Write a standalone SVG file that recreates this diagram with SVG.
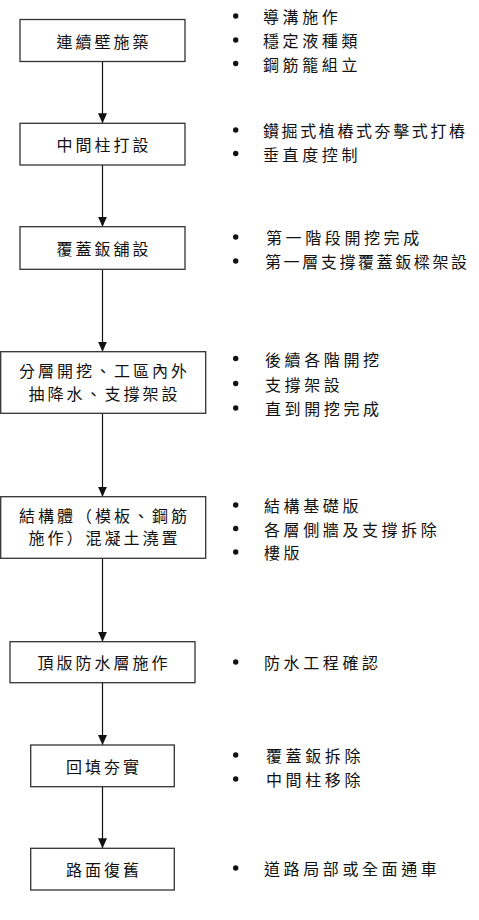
<svg xmlns="http://www.w3.org/2000/svg" width="479" height="920" viewBox="0 0 479 920">
<style>
.box{fill:#fff;stroke:#333;stroke-width:1.3}
.t{font-family:"Noto Sans CJK TC","Noto Sans CJK SC",sans-serif;font-size:16px;fill:#111;letter-spacing:3px;dominant-baseline:central}
.n{letter-spacing:3.6px}
.l{letter-spacing:2.6px}
.c{text-anchor:middle}
.con{stroke:#111;stroke-width:1.2;fill:none}
.dot{fill:#111}
</style>
<defs>
<marker id="ah" markerUnits="userSpaceOnUse" markerWidth="10" markerHeight="9" refX="10" refY="4.5" orient="auto">
<path d="M0,0 L10,4.5 L0,9 z" fill="#111"/>
</marker>
</defs>
<g id="connectors">
<line class="con" x1="102.5" y1="61.5" x2="102.5" y2="123.3" marker-end="url(#ah)"/>
<line class="con" x1="102.5" y1="165" x2="102.5" y2="226.7" marker-end="url(#ah)"/>
<line class="con" x1="102.5" y1="269.3" x2="102.5" y2="351.7" marker-end="url(#ah)"/>
<line class="con" x1="102.5" y1="413.3" x2="102.5" y2="496.7" marker-end="url(#ah)"/>
<line class="con" x1="102.5" y1="558.3" x2="102.5" y2="641.7" marker-end="url(#ah)"/>
<line class="con" x1="102.5" y1="682.7" x2="102.5" y2="745" marker-end="url(#ah)"/>
<line class="con" x1="102.5" y1="786.7" x2="102.5" y2="848.3" marker-end="url(#ah)"/>
</g>
<g id="n1">
<rect class="box" x="20" y="19.5" width="165" height="42"/>
<text class="t c" x="104" y="40.5">連續壁施築</text>
</g>
<g id="n1-notes">
<circle class="dot" cx="235.7" cy="16" r="2.7"/><text class="t n" x="263" y="16">導溝施作</text>
<circle class="dot" cx="235.7" cy="40" r="2.7"/><text class="t n" x="263" y="40">穩定液種類</text>
<circle class="dot" cx="235.7" cy="63.5" r="2.7"/><text class="t n" x="263" y="63.5">鋼筋籠組立</text>
</g>
<g id="n2">
<rect class="box" x="20" y="123.3" width="165" height="41.7"/>
<text class="t c" x="104" y="144">中間柱打設</text>
</g>
<g id="n2-notes">
<circle class="dot" cx="235.7" cy="130" r="2.7"/><text class="t l" x="263" y="130">鑽掘式植樁式夯擊式打樁</text>
<circle class="dot" cx="235.7" cy="153.5" r="2.7"/><text class="t n" x="263" y="153.5">垂直度控制</text>
</g>
<g id="n3">
<rect class="box" x="20" y="226.7" width="165" height="42.6"/>
<text class="t c" x="104" y="248">覆蓋鈑舖設</text>
</g>
<g id="n3-notes">
<circle class="dot" cx="235.7" cy="237" r="2.7"/><text class="t n" x="266" y="237">第一階段開挖完成</text>
<circle class="dot" cx="235.7" cy="261" r="2.7"/><text class="t l" x="265" y="261">第一層支撐覆蓋鈑樑架設</text>
</g>
<g id="n4">
<rect class="box" x="0.7" y="351.7" width="205" height="61.6"/>
<text class="t c" x="104.5" y="370">分層開挖、工區內外</text>
<text class="t c" x="104.5" y="393">抽降水、支撐架設</text>
</g>
<g id="n4-notes">
<circle class="dot" cx="235.7" cy="358.5" r="2.7"/><text class="t n" x="265" y="358.5">後續各階開挖</text>
<circle class="dot" cx="235.7" cy="383.5" r="2.7"/><text class="t n" x="265" y="383.5">支撐架設</text>
<circle class="dot" cx="235.7" cy="408" r="2.7"/><text class="t n" x="265" y="408">直到開挖完成</text>
</g>
<g id="n5">
<rect class="box" x="0.7" y="496.7" width="205" height="61.6"/>
<text class="t c" x="104.5" y="515">結構體（模板、鋼筋</text>
<text class="t c" x="104.5" y="537">施作）混凝土澆置</text>
</g>
<g id="n5-notes">
<circle class="dot" cx="235.7" cy="505" r="2.7"/><text class="t n" x="264" y="505">結構基礎版</text>
<circle class="dot" cx="235.7" cy="528.5" r="2.7"/><text class="t n" x="264" y="528.5">各層側牆及支撐拆除</text>
<circle class="dot" cx="235.7" cy="552" r="2.7"/><text class="t n" x="264" y="552">樓版</text>
</g>
<g id="n6">
<rect class="box" x="10" y="641.7" width="185" height="41"/>
<text class="t c" x="104" y="662">頂版防水層施作</text>
</g>
<g id="n6-notes">
<circle class="dot" cx="235.7" cy="662" r="2.7"/><text class="t n" x="264" y="662">防水工程確認</text>
</g>
<g id="n7">
<rect class="box" x="30.7" y="745" width="143.6" height="41.7"/>
<text class="t c" x="104" y="766">回填夯實</text>
</g>
<g id="n7-notes">
<circle class="dot" cx="235.7" cy="755" r="2.7"/><text class="t n" x="266" y="755">覆蓋鈑拆除</text>
<circle class="dot" cx="235.7" cy="779" r="2.7"/><text class="t n" x="266" y="779">中間柱移除</text>
</g>
<g id="n8">
<rect class="box" x="30.7" y="848.3" width="143.6" height="41.7"/>
<text class="t c" x="104" y="869">路面復舊</text>
</g>
<g id="n8-notes">
<circle class="dot" cx="235.7" cy="868" r="2.7"/><text class="t n" x="264" y="868">道路局部或全面通車</text>
</g>
</svg>
